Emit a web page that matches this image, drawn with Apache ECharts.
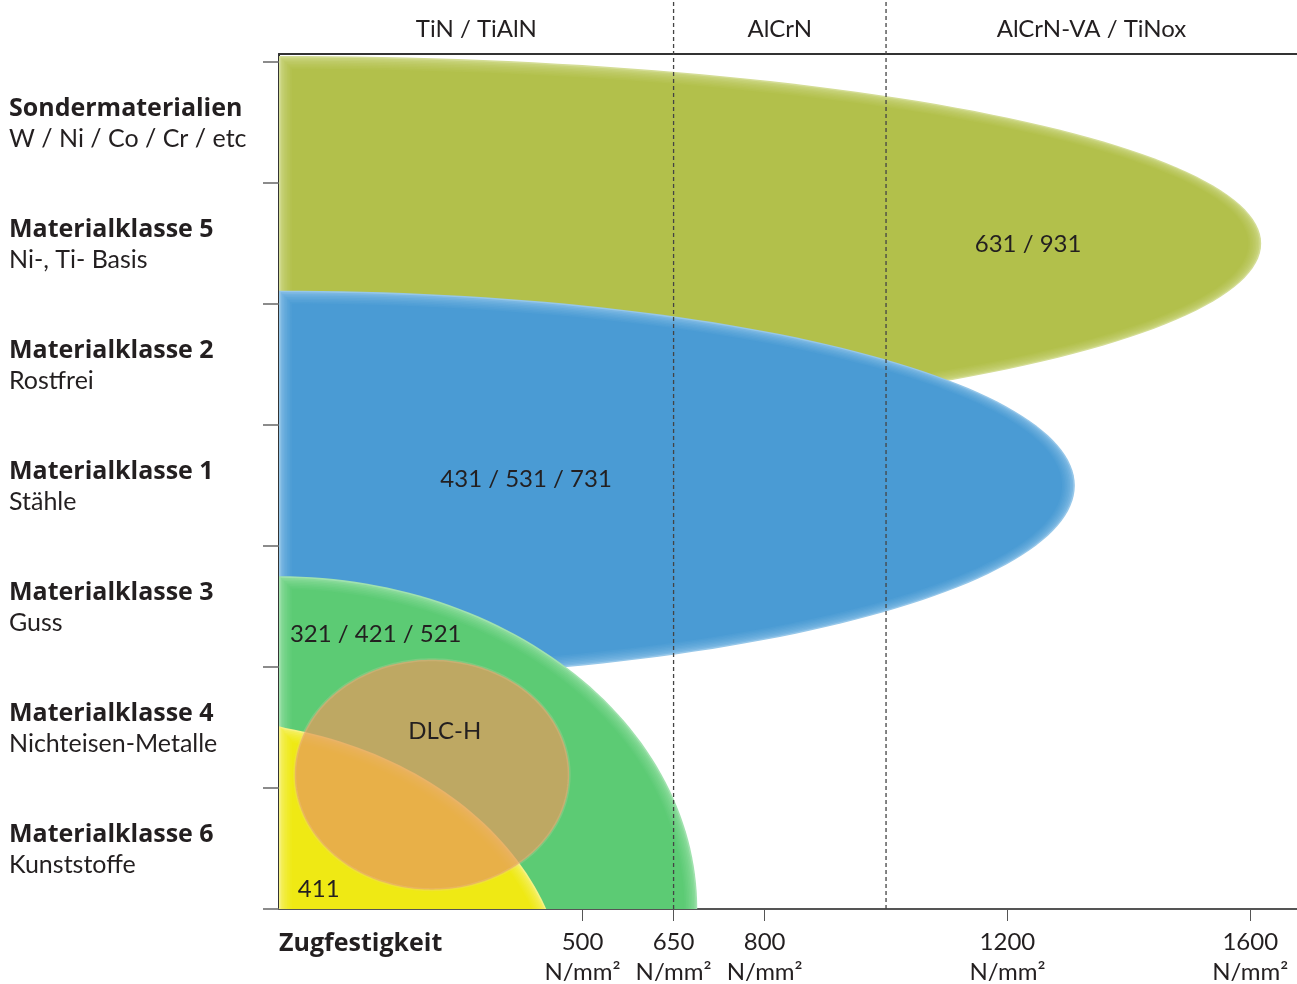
<!DOCTYPE html>
<html>
<head>
<meta charset="utf-8">
<script src="https://cdn.jsdelivr.net/npm/echarts@6/dist/echarts.min.js"></script>
<style>
html, body { margin: 0; padding: 0; background: #ffffff; }
#chart { width: 1297px; height: 984px; }
</style>
</head>
<body>
<div id="chart"></div>
<script>
// ---------- data ----------
// material bands, bottom to top
const bandTitles = ['Materialklasse 6', 'Materialklasse 4', 'Materialklasse 3', 'Materialklasse 1', 'Materialklasse 2', 'Materialklasse 5', 'Sondermaterialien'];
const bandSubtitles = ['Kunststoffe', 'Nichteisen-Metalle', 'Guss', 'Stähle', 'Rostfrei', 'Ni-, Ti- Basis', 'W / Ni / Co / Cr / etc'];
const bandBounds = [0, 1, 2, 3, 4, 5, 6, 7];

// tensile strength axis (N/mm²)
const strengthTicks = [500, 650, 800, 1200, 1600];
const strengthUnit = 'N/mm²';
const xTitle = 'Zugfestigkeit';

// coating regions along the strength axis
const coatingBounds = [650, 1000];
const coatingNames = ['TiN / TiAlN', 'AlCrN', 'AlCrN-VA / TiNox'];

// application zones (ellipses in strength / band units), drawn in this order
const zoneNames = ['631 / 931', '431 / 531 / 731', '321 / 421 / 521', '411', 'DLC-H'];
const zoneCenterX = [0, 0, 0, -130, 252];
const zoneCenterY = [5.5, 3.5, 0, -0.75, 1.11];
const zoneRadiusX = [1618, 1311, 689, 603, 226];
const zoneRadiusY = [1.55, 1.61, 2.75, 2.31, 0.95];
// label anchor of each zone (strength / band units)
const zoneLabelX = [1234, 407, 18, 31, 273];
const zoneLabelY = [5.49, 3.55, 2.27, 0.16, 1.47];

// ---------- styling ----------
const FONT = '"Open Sans", "Noto Sans", sans-serif';
const FONT_NUM = 'Lato, "Open Sans", sans-serif';
const TEXT = '#231f20';
const X_MAX = 1677;
const Y_MAX = 7.066;
const zoneStyle = [
  { main: [178, 192, 75], edge: [212, 221, 150], alpha: 1 },
  { main: [74, 155, 212], edge: [150, 199, 233], alpha: 1 },
  { main: [92, 203, 116], edge: [160, 226, 174], alpha: 1 },
  { main: [239, 233, 20], edge: [246, 242, 130], alpha: 1 },
  { main: [229, 154, 93], edge: null, alpha: 0.72 }
];
const zoneLabelAlign = ['center', 'center', 'left', 'left', 'center'];
const SOFT_STEPS = 8;
const SOFT_STEP_PX = 1.6;

function mix(a, b, t) {
  return 'rgb(' + a.map((v, k) => Math.round(v + (b[k] - v) * t)).join(',') + ')';
}

function ellipsePoints(cx, cy, rx, ry, minX) {
  const pts = [];
  const n = 240;
  for (let k = 0; k < n; k++) {
    const a = (k / n) * Math.PI * 2;
    pts.push([Math.max(minX, cx + rx * Math.cos(a)), cy + ry * Math.sin(a)]);
  }
  return pts;
}

const chart = echarts.init(document.getElementById('chart'), null, { renderer: 'canvas' });

const midpoints = [];
const edges = [0].concat(coatingBounds, [X_MAX]);
for (let i = 0; i < coatingNames.length; i++) midpoints.push((edges[i] + edges[i + 1]) / 2);

const option = {
  backgroundColor: '#ffffff',
  animation: false,
  grid: { left: 279, right: 0, top: 54, bottom: 75, containLabel: false, outerBoundsMode: 'none' },
  xAxis: [
    {
      type: 'value', min: 0, max: X_MAX, position: 'bottom',
      axisLine: { show: true, lineStyle: { color: '#555', width: 2 } },
      axisTick: { show: true, customValues: strengthTicks, length: 12, lineStyle: { color: '#555', width: 1 } },
      axisLabel: {
        customValues: strengthTicks, margin: 18,
        formatter: v => v + '\n' + strengthUnit,
        fontFamily: FONT_NUM, fontSize: 24, color: TEXT, lineHeight: 30
      },
      splitLine: { show: false }
    },
    {
      type: 'value', min: 0, max: X_MAX, position: 'top',
      axisLine: { show: true, onZero: false, lineStyle: { color: '#333', width: 2 } },
      axisTick: { show: false },
      axisLabel: {
        customValues: midpoints, margin: 13,
        formatter: v => coatingNames[midpoints.indexOf(v)] || '',
        fontFamily: FONT_NUM, fontSize: 24, color: TEXT
      },
      splitLine: { show: false }
    }
  ],
  yAxis: {
    type: 'value', min: 0, max: Y_MAX,
    axisLine: { show: true, onZero: false, lineStyle: { color: '#333', width: 2 } },
    axisTick: { show: true, customValues: bandBounds, length: 16, lineStyle: { color: '#666', width: 1.5 } },
    axisLabel: {
      customValues: bandBounds.slice(0, 7).map(v => v + 0.5),
      margin: 270, align: 'left', verticalAlign: 'middle',
      formatter: v => '{t|' + bandTitles[Math.floor(v)] + '}\n{s|' + bandSubtitles[Math.floor(v)] + '}',
      rich: {
        t: { fontFamily: FONT, fontSize: 25, fontWeight: 'bold', color: TEXT, lineHeight: 32, padding: [4, 0, 0, 0] },
        s: { fontFamily: FONT_NUM, fontSize: 25, color: TEXT, lineHeight: 32 }
      }
    },
    splitLine: { show: false }
  },
  graphic: [
    {
      type: 'text', left: 279, top: 931,
      style: { text: xTitle, fontFamily: FONT, fontSize: 25, fontWeight: 'bold', fill: TEXT }
    }
  ],
  series: [
    {
      type: 'custom', name: 'zones', xAxisIndex: 0, yAxisIndex: 0, clip: true, z: 1,
      data: zoneNames.map((n, i) => [zoneCenterX[i], zoneCenterY[i], zoneRadiusX[i], zoneRadiusY[i]]),
      encode: { x: 0, y: 1 },
      renderItem: (params, api) => {
        const i = params.dataIndex;
        const c = api.coord([api.value(0), api.value(1)]);
        const s = api.size([api.value(2), api.value(3)]);
        const left = params.coordSys.x;
        const st = zoneStyle[i];
        const children = [];
        if (st.edge) {
          for (let j = 0; j <= SOFT_STEPS; j++) {
            const d = j * SOFT_STEP_PX;
            const t = j / SOFT_STEPS;
            children.push({
              type: 'polygon',
              shape: { points: ellipsePoints(c[0], c[1], s[0] - d, s[1] - d, left + d) },
              style: { fill: mix(st.edge, st.main, Math.sqrt(t)) }
            });
          }
        } else {
          children.push({
            type: 'polygon',
            shape: { points: ellipsePoints(c[0], c[1], s[0], s[1], -1e9) },
            style: {
              fill: mix(st.main, st.main, 0), opacity: st.alpha,
              stroke: 'rgba(240,205,170,0.3)', lineWidth: 3
            }
          });
        }
        return { type: 'group', children };
      }
    },
    {
      type: 'custom', name: 'coating bounds', clip: false, z: 5,
      data: coatingBounds.map(v => [v, 0]),
      encode: { x: 0, y: 1 },
      renderItem: (params, api) => {
        const p = api.coord([api.value(0), 0]);
        return {
          type: 'line',
          shape: { x1: p[0], y1: p[1], x2: p[0], y2: 0 },
          style: { stroke: '#444', lineWidth: 1.3, lineDash: [4, 3] }
        };
      }
    },
    {
      type: 'custom', name: 'zone labels', clip: false, z: 6,
      data: zoneNames.map((n, i) => [zoneLabelX[i], zoneLabelY[i]]),
      encode: { x: 0, y: 1 },
      renderItem: (params, api) => {
        const i = params.dataIndex;
        const p = api.coord([api.value(0), api.value(1)]);
        return {
          type: 'text', x: p[0], y: p[1],
          style: {
            text: zoneNames[i], fontFamily: FONT_NUM, fontSize: 24, fill: TEXT,
            align: zoneLabelAlign[i], verticalAlign: 'middle'
          }
        };
      }
    }
  ]
};
chart.setOption(option);
</script>
</body>
</html>
